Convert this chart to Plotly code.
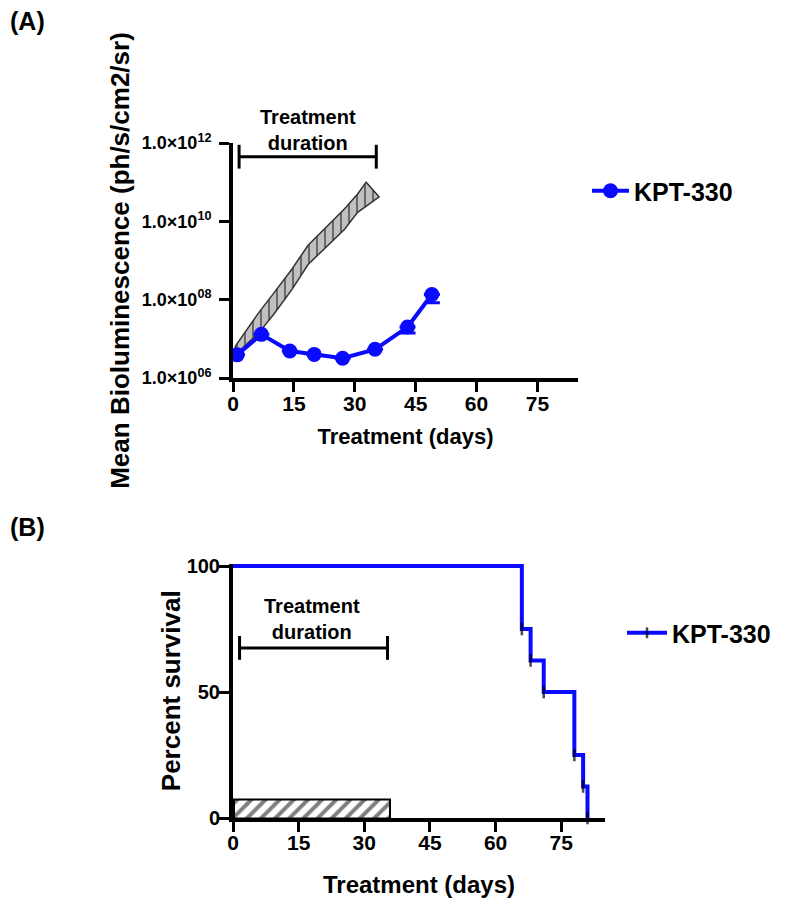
import plotly.graph_objects as go

# ---------------- data ----------------
# Panel A: bioluminescence (KPT-330 group)
biolum_days = [1, 7, 14, 20, 27, 35, 43, 49]
biolum_mean = [3.9e6, 1.3e7, 4.9e6, 4.0e6, 3.2e6, 5.4e6, 2.0e7, 1.36e8]
biolum_err_minus = [0, 0, 0, 0, 0, 0, 6.0e6, 5.3e7]

# Control growth band (upper edge, then lower edge back to start)
band_upper_days = [0.5, 6.3, 10, 14.5, 18.5, 23.4, 27.5, 30.7, 32.8]
band_upper_vals = [6.3e6, 4.6e7, 1.45e8, 6.0e8, 2.45e9, 7.8e9, 2.1e10, 5.0e10, 1.0e11]
band_lower_days = [36.0, 30.7, 27.5, 23.4, 18.5, 14.5, 10, 6.3, 1.2]
band_lower_vals = [4.2e10, 1.7e10, 6.3e9, 2.4e9, 7.9e8, 1.8e8, 4.2e7, 1.4e7, 4.5e6]

# Treatment duration (days)
treatment_bracket_days = [1.5, 35.3]
treatment_bar_days = [0.3, 35.8]
treatment_bar_height = 7.3

# Panel B: Kaplan-Meier survival (KPT-330)
surv_days = [0, 66, 68, 71, 78, 80, 81]
surv_pct = [100, 75, 62.5, 50, 25, 12.5, 0]

x_ticks = [0, 15, 30, 45, 60, 75]
a_y_tickvals = [1e6, 1e8, 1e10, 1e12]
a_y_ticktext = ["1.0×10<sup>06</sup>", "1.0×10<sup>08</sup>",
                "1.0×10<sup>10</sup>", "1.0×10<sup>12</sup>"]
b_y_ticks = [0, 50, 100]

# ---------------- figure ----------------
# the page body adds an 8px margin, so the figure is sized to fit the window
OFF = 8
W, H = 785 - OFF, 902 - OFF
FONT = "Liberation Sans"
BLUE = "#0a0aff"


def px_x(p):
    return (p - OFF) / W


def px_y(p):
    return 1 - (p - OFF) / H


def bold(s):
    return "<b>" + str(s) + "</b>"


fig = go.Figure()

# Control band (hatched)
fig.add_trace(go.Scatter(
    x=band_upper_days + band_lower_days + [band_upper_days[0]],
    y=band_upper_vals + band_lower_vals + [band_upper_vals[0]],
    mode="lines", fill="toself",
    fillcolor="#c0c0c0",
    fillpattern=dict(shape="|", bgcolor="#c0c0c0", fgcolor="#111111",
                     size=8, solidity=0.25),
    line=dict(color="#333333", width=1.5),
    xaxis="x", yaxis="y", showlegend=False, hoverinfo="skip",
))

# Treatment bracket A
bracket_a_y = 10 ** 11.65
fig.add_trace(go.Scatter(
    x=treatment_bracket_days, y=[bracket_a_y, bracket_a_y],
    mode="lines+markers",
    line=dict(color="black", width=3),
    marker=dict(symbol="line-ns", size=17, line=dict(color="black", width=3)),
    xaxis="x", yaxis="y", showlegend=False, cliponaxis=False,
))

# KPT-330 bioluminescence
fig.add_trace(go.Scatter(
    x=biolum_days, y=biolum_mean,
    mode="lines+markers", name="KPT-330",
    line=dict(color=BLUE, width=4),
    marker=dict(symbol="circle", size=15, color=BLUE),
    error_y=dict(type="data", symmetric=False,
                 array=[0] * len(biolum_days), arrayminus=biolum_err_minus,
                 color=BLUE, thickness=3, width=8),
    xaxis="x", yaxis="y", legend="legend", cliponaxis=False,
))

# Treatment bar B (hatched)
fig.add_trace(go.Bar(
    x=[(treatment_bar_days[0] + treatment_bar_days[1]) / 2],
    y=[treatment_bar_height],
    width=[treatment_bar_days[1] - treatment_bar_days[0]],
    marker=dict(color="white",
                pattern=dict(shape="/", fgcolor="black", bgcolor="white",
                             size=10, solidity=0.4),
                line=dict(color="black", width=2)),
    xaxis="x2", yaxis="y2", showlegend=False, hoverinfo="skip",
))

# Treatment bracket B
bracket_b_y = 67.5
fig.add_trace(go.Scatter(
    x=treatment_bracket_days, y=[bracket_b_y, bracket_b_y],
    mode="lines+markers",
    line=dict(color="black", width=3),
    marker=dict(symbol="line-ns", size=17, line=dict(color="black", width=3)),
    xaxis="x2", yaxis="y2", showlegend=False, cliponaxis=False,
))

# Survival curve
fig.add_trace(go.Scatter(
    x=surv_days, y=surv_pct,
    mode="lines+markers", name="KPT-330",
    line=dict(color=BLUE, width=4, shape="hv"),
    marker=dict(symbol="line-ns", size=[0] + [9] * (len(surv_days) - 1),
                color="black", line=dict(color="black", width=2.5)),
    xaxis="x2", yaxis="y2", legend="legend2", cliponaxis=False,
))

tick_font_x = dict(family=FONT, size=21, color="black")

axis_common = dict(
    showline=True, linecolor="black", linewidth=4,
    ticks="outside", ticklen=10, tickwidth=3, tickcolor="black",
    showgrid=False, zeroline=False, mirror=False, automargin=False,
)

fig.update_layout(
    width=W, height=H,
    margin=dict(l=0, r=0, t=0, b=0, autoexpand=False),
    paper_bgcolor="white", plot_bgcolor="white",
    font=dict(family=FONT, color="black"),
    bargap=0,
    xaxis=dict(
        domain=[px_x(233), px_x(578)], anchor="y",
        range=[0, 85], tickvals=x_ticks, ticktext=[bold(v) for v in x_ticks],
        tickfont=tick_font_x, ticklabelstandoff=-6,
        title=dict(text=bold("Treatment (days)"), standoff=15,
                   font=dict(family=FONT, size=22, color="black")),
        **axis_common,
    ),
    yaxis=dict(
        domain=[px_y(378), px_y(143)], anchor="x",
        type="log", range=[6, 12],
        tickvals=a_y_tickvals, ticktext=[bold(t) for t in a_y_ticktext],
        tickfont=dict(family=FONT, size=18, color="black"),
        ticklabelstandoff=4,
        title=dict(text=bold("Mean Bioluminescence (ph/s/cm2/sr)"), standoff=6,
                   font=dict(family=FONT, size=26, color="black")),
        **axis_common,
    ),
    xaxis2=dict(
        domain=[px_x(233), px_x(605)], anchor="y2",
        range=[0, 85], tickvals=x_ticks, ticktext=[bold(v) for v in x_ticks],
        tickfont=tick_font_x, ticklabelstandoff=-7,
        title=dict(text=bold("Treatment (days)"), standoff=24,
                   font=dict(family=FONT, size=24, color="black")),
        **axis_common,
    ),
    yaxis2=dict(
        domain=[px_y(818), px_y(563.5)], anchor="x2",
        range=[0, 101], tickvals=b_y_ticks, ticktext=[bold(v) for v in b_y_ticks],
        tickfont=dict(family=FONT, size=20, color="black"),
        ticklabelstandoff=-5,
        title=dict(text=bold("Percent survival"), standoff=0,
                   font=dict(family=FONT, size=26, color="black")),
        **axis_common,
    ),
    legend=dict(
        x=px_x(587), y=px_y(191), xanchor="left", yanchor="middle",
        font=dict(family=FONT, size=25, color="black", weight="bold"),
        bgcolor="rgba(0,0,0,0)", borderwidth=0, itemwidth=37,
    ),
    legend2=dict(
        x=px_x(622), y=px_y(633), xanchor="left", yanchor="middle",
        font=dict(family=FONT, size=25, color="black", weight="bold"),
        bgcolor="rgba(0,0,0,0)", borderwidth=0, itemwidth=40,
    ),
    showlegend=True,
    annotations=[
        dict(text=bold("(A)"), x=0, y=px_y(21), xref="paper", yref="paper",
             xanchor="left", yanchor="middle", showarrow=False,
             font=dict(family=FONT, size=25, color="black")),
        dict(text=bold("(B)"), x=0, y=px_y(527), xref="paper", yref="paper",
             xanchor="left", yanchor="middle", showarrow=False,
             font=dict(family=FONT, size=25, color="black")),
        dict(text=bold("Treatment<br>duration"), x=18.5, y=px_y(130),
             xref="x", yref="paper", xanchor="center", yanchor="middle",
             showarrow=False,
             font=dict(family=FONT, size=20, color="black")),
        dict(text=bold("Treatment<br>duration"), x=18.1, y=79,
             xref="x2", yref="y2", xanchor="center", yanchor="middle",
             showarrow=False,
             font=dict(family=FONT, size=20, color="black")),
    ],
)

fig.write_html("out.html")
